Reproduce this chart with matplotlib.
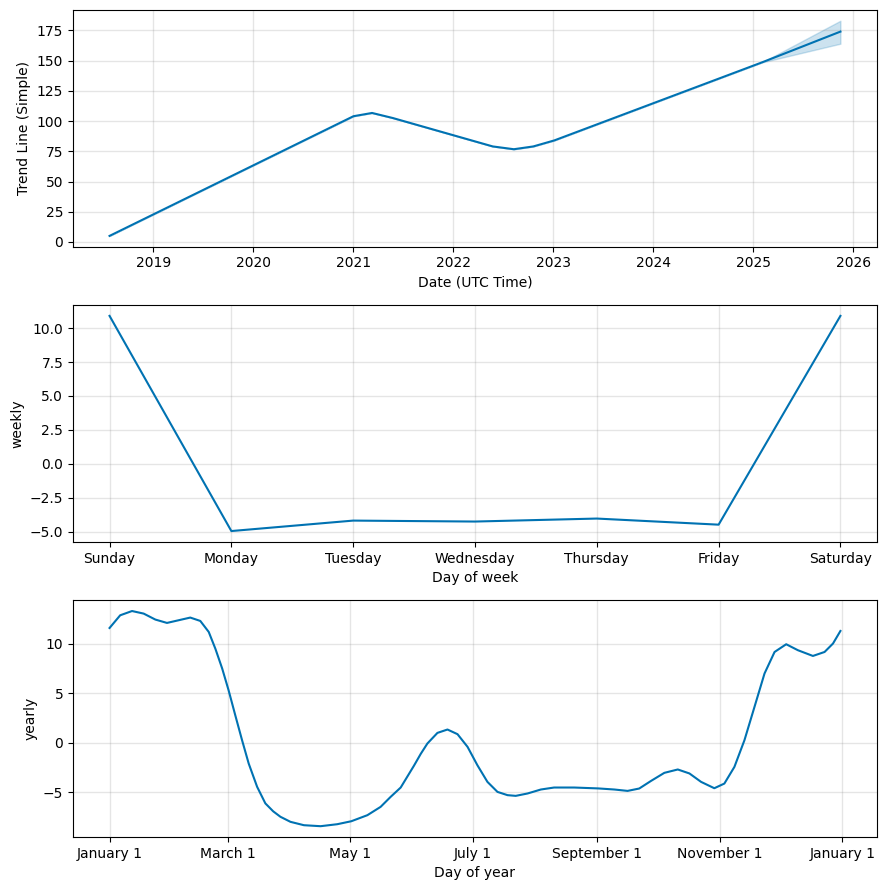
import numpy as np
import pandas as pd
import matplotlib
matplotlib.use("Agg")
import matplotlib.pyplot as plt
from matplotlib.dates import MonthLocator, num2date
from matplotlib.ticker import FuncFormatter

# trend component
trend_dates = ["2018-07-25", "2021-01-01", "2021-03-10", "2021-05-25", "2022-05-25",
               "2022-08-10", "2022-10-20", "2023-01-05", "2025-02-01", "2025-11-15"]
trend_vals = [5.0, 104.0, 106.7, 102.5, 79.0, 76.7, 79.0, 84.0, 148.5, 174.0]
trend_upper = [5.0, 104.0, 106.7, 102.5, 79.0, 76.7, 79.0, 84.0, 148.5, 183.0]
trend_lower = [5.0, 104.0, 106.7, 102.5, 79.0, 76.7, 79.0, 84.0, 148.5, 164.0]

# weekly component
week_days = ["Sunday", "Monday", "Tuesday", "Wednesday", "Thursday", "Friday", "Saturday"]
weekly_vals = [10.9, -4.95, -4.18, -4.25, -4.03, -4.48, 10.9]

# yearly component (day of year, value)
year_days = [0, 5.3, 11.2, 17, 22.8, 28.6, 34.4, 40.2, 45.2, 49.4, 52.7, 56.1, 59.3,
             62.6, 66, 69.3, 73.5, 77.6, 81.5, 85.1, 90.1, 96.8, 105.1, 113.4, 120.4,
             128.4, 135, 140, 145, 148.3, 151.6, 155, 158.3, 163.3, 168.3, 173.3,
             178.3, 183.2, 188.2, 193.2, 198.2, 202.3, 208.2, 214.8, 221.4, 231.4,
             243.4, 251.4, 258, 263.8, 269.7, 276.3, 283, 288.8, 294.6, 301.2, 306.2,
             311.2, 316.2, 321.2, 326.2, 331.2, 337, 342.8, 350.3, 356.1, 360.3, 364]
yearly_vals = [11.59, 12.87, 13.3, 13.04, 12.44, 12.1, 12.37, 12.64, 12.3, 11.19, 9.5,
               7.5, 5.3, 2.8, 0.27, -2.08, -4.43, -6.1, -6.9, -7.45, -7.96, -8.3, -8.4,
               -8.2, -7.9, -7.29, -6.45, -5.44, -4.5, -3.4, -2.3, -1.1, -0.06, 1.01,
               1.35, 0.88, -0.4, -2.25, -3.93, -4.94, -5.27, -5.34, -5.1, -4.7, -4.5,
               -4.5, -4.59, -4.7, -4.84, -4.6, -3.83, -3.02, -2.68, -3.08, -3.93, -4.57,
               -4.1, -2.42, 0.27, 3.63, 7.0, 9.17, 9.95, 9.35, 8.77, 9.17, 10.02, 11.29]

LINE = "#0072B2"

fig, axes = plt.subplots(3, 1, figsize=(8.86, 8.9), dpi=100)
fig.subplots_adjust(left=0.0824, right=0.9898, top=0.9888, bottom=0.0596, hspace=0.247)

# trend
ax = axes[0]
td = pd.to_datetime(trend_dates)
ax.plot(td, trend_vals, ls="-", c=LINE)
ax.fill_between(td, trend_lower, trend_upper, color=LINE, alpha=0.2)
ax.grid(True, which="major", c="gray", ls="-", lw=1, alpha=0.2)
ax.set_xlabel("Date (UTC Time)")
ax.set_ylabel("Trend Line (Simple)")

# weekly
ax = axes[1]
ax.plot(range(len(week_days)), weekly_vals, ls="-", c=LINE)
ax.set_xticks(range(len(week_days)))
ax.set_xticklabels(week_days)
ax.grid(True, which="major", c="gray", ls="-", lw=1, alpha=0.2)
ax.set_xlabel("Day of week")
ax.set_ylabel("weekly")

# yearly
ax = axes[2]
yd = pd.Timestamp("2017-01-01") + pd.to_timedelta(np.array(year_days) * 24, unit="h")
ax.plot(yd, yearly_vals, ls="-", c=LINE)
ax.xaxis.set_major_locator(MonthLocator(bymonth=range(1, 13), bymonthday=1, interval=2))
ax.xaxis.set_major_formatter(FuncFormatter(
    lambda x, pos=None: "{dt:%B} {dt.day}".format(dt=num2date(x))))
ax.grid(True, which="major", c="gray", ls="-", lw=1, alpha=0.2)
ax.set_xlabel("Day of year")
ax.set_ylabel("yearly")

fig.savefig("out.png", dpi=100)
